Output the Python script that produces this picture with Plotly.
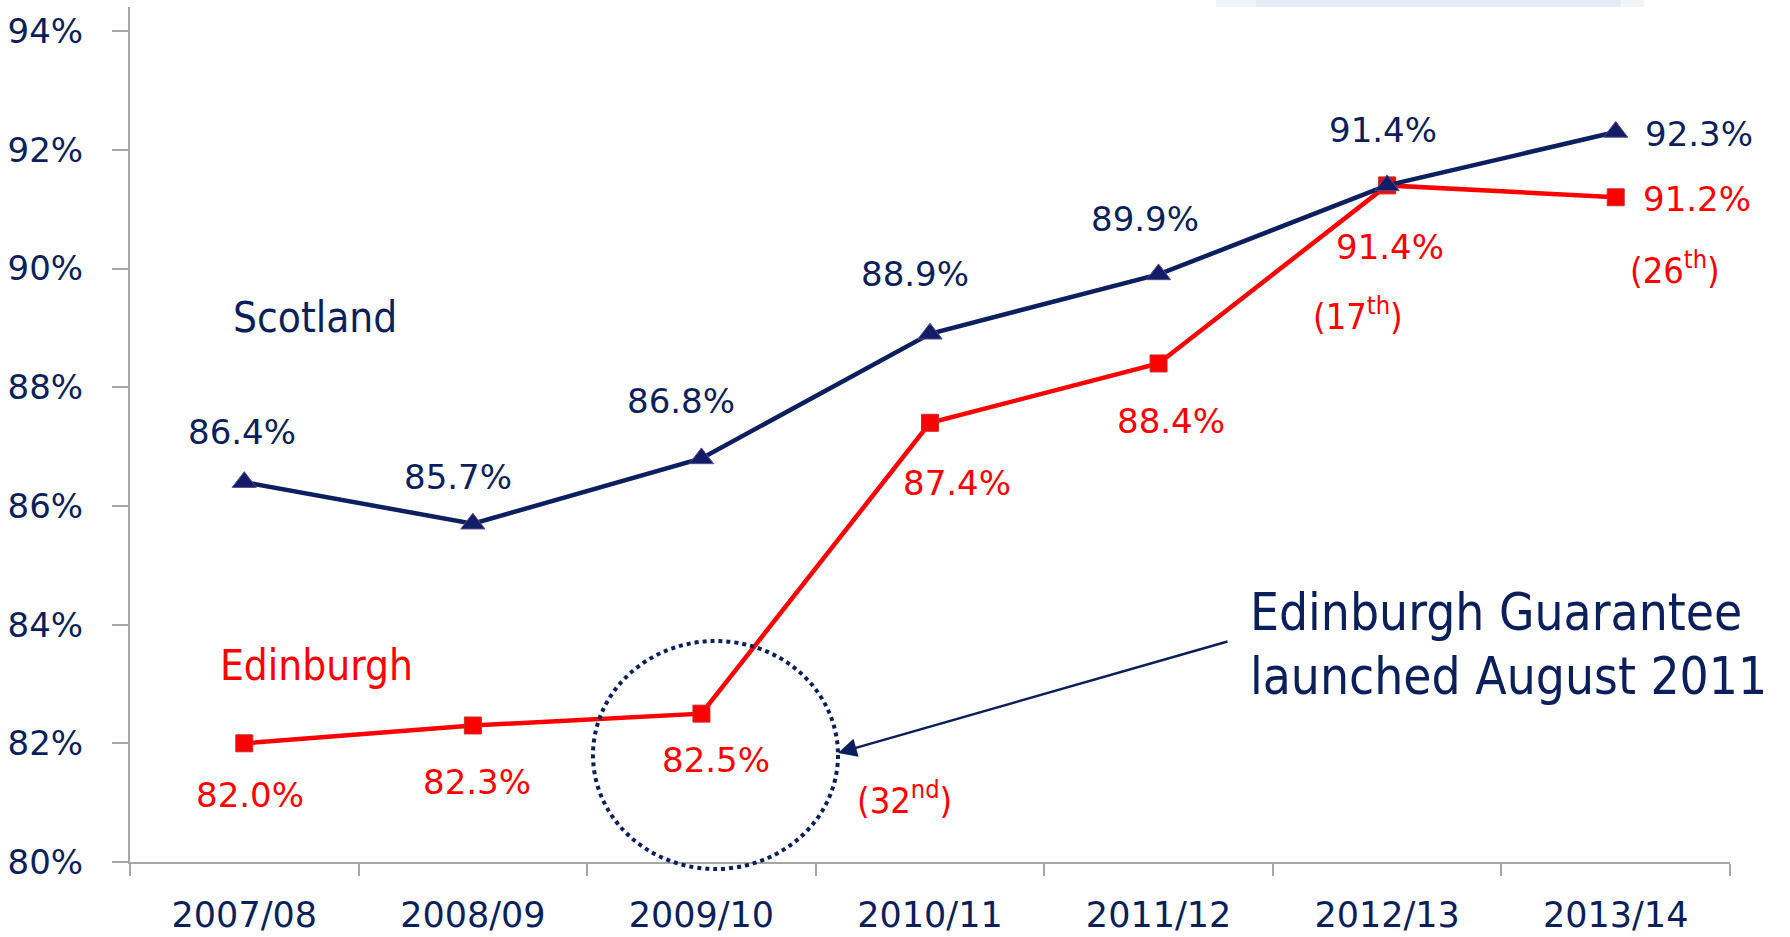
import plotly.graph_objects as go

# ---- data ----
years = ["2007/08", "2008/09", "2009/10", "2010/11", "2011/12", "2012/13", "2013/14"]
scotland = [86.4, 85.7, 86.8, 88.9, 89.9, 91.4, 92.3]
edinburgh = [82.0, 82.3, 82.5, 87.4, 88.4, 91.4, 91.2]
ytick_vals = [80, 82, 84, 86, 88, 90, 92, 94]
ytick_text = ["80%", "82%", "84%", "86%", "88%", "90%", "92%", "94%"]
rank_idx = [2, 5, 6]
rank_text = ["(32<sup>nd</sup>)", "(17<sup>th</sup>)", "(26<sup>th</sup>)"]

# ---- styling / positioning (pixel offsets of labels relative to points) ----
NAVY = "#0c1f5e"
NAVY_TXT = "#0b1f5c"
RED = "#ff0000"
VERD = "DejaVu Sans, Verdana, sans-serif"
TAH = "DejaVu Sans Condensed, Tahoma, Roboto, sans-serif"

sc_off = [(-2, -50), (-15, -47), (-20, -57), (-15, -60), (-14, -55), (-4, -55), (83, 2)]
ed_off = [(6, 52), (4, 57), (15, 46), (27, 60), (12, 58), (3, 62), (81, 2)]
rank_off = [(203, 84), (-29, 129), (59, 71)]

W, H = 1790, 937
L, R, T, B = 130, 60, 7, 75
PW = W - L - R
PH = H - T - B


def px(x):
    return (x - L) / PW


def py(y):
    return (H - B - y) / PH


fig = go.Figure()
fig.add_trace(go.Scatter(
    x=years, y=edinburgh, mode="lines+markers", name="Edinburgh",
    line=dict(color=RED, width=4.5),
    marker=dict(symbol="square", size=17, color=RED, line=dict(color="#c83030", width=1)),
))
fig.add_trace(go.Scatter(
    x=years, y=scotland, mode="lines+markers", name="Scotland",
    line=dict(color=NAVY, width=4.5),
    marker=dict(symbol="triangle-up", size=21, color="#131c66", line=dict(color="#5a4a90", width=1)),
))

ann = []
for i, (yr, v) in enumerate(zip(years, scotland)):
    dx, dy = sc_off[i]
    ann.append(dict(x=yr, y=v, xref="x", yref="y", text=f"{v:.1f}%", showarrow=False,
                    xshift=dx, yshift=-dy, xanchor="center", yanchor="middle",
                    font=dict(family=VERD, size=34, color=NAVY_TXT)))
for i, (yr, v) in enumerate(zip(years, edinburgh)):
    dx, dy = ed_off[i]
    ann.append(dict(x=yr, y=v, xref="x", yref="y", text=f"{v:.1f}%", showarrow=False,
                    xshift=dx, yshift=-dy, xanchor="center", yanchor="middle",
                    font=dict(family=VERD, size=34, color=RED)))
for k, idx in enumerate(rank_idx):
    dx, dy = rank_off[k]
    ann.append(dict(x=years[idx], y=edinburgh[idx], xref="x", yref="y", text=rank_text[k],
                    showarrow=False, xshift=dx, yshift=-dy, xanchor="center", yanchor="middle",
                    font=dict(family=TAH, size=36, color=RED)))

# series name labels
ann.append(dict(x=px(315), y=py(317), xref="paper", yref="paper", text="Scotland", showarrow=False,
                xanchor="center", yanchor="middle", font=dict(family=TAH, size=42, color=NAVY_TXT)))
ann.append(dict(x=px(316), y=py(665), xref="paper", yref="paper", text="Edinburgh", showarrow=False,
                xanchor="center", yanchor="middle", font=dict(family=TAH, size=42, color=RED)))
# callout text
ann.append(dict(x=px(1248), y=py(612), xref="paper", yref="paper", text="Edinburgh Guarantee",
                showarrow=False, xanchor="left", yanchor="middle",
                font=dict(family=TAH, size=51, color=NAVY_TXT)))
ann.append(dict(x=px(1248), y=py(676), xref="paper", yref="paper", text="launched August 2011",
                showarrow=False, xanchor="left", yanchor="middle",
                font=dict(family=TAH, size=51, color=NAVY_TXT)))
# arrow
ann.append(dict(x=px(838), y=py(753), xref="paper", yref="paper", text="", showarrow=True,
                ax=391, ay=-112, axref="pixel", ayref="pixel",
                arrowhead=2, arrowsize=1.5, arrowwidth=2.5, arrowcolor=NAVY_TXT, standoff=0))

shapes = [
    # dotted ellipse
    dict(type="circle", xref="paper", yref="paper", x0=px(593), x1=px(838), y0=py(869), y1=py(641),
         line=dict(color=NAVY_TXT, width=4, dash="dot")),
    # faint band at the top edge
    dict(type="rect", xref="paper", yref="paper", x0=px(1216), x1=px(1644), y0=py(7), y1=py(0),
         line=dict(width=0), fillcolor="#f1f4f9"),
    dict(type="rect", xref="paper", yref="paper", x0=px(1256), x1=px(1621), y0=py(7), y1=py(0),
         line=dict(width=0), fillcolor="#e5ebf4"),
]

fig.update_layout(
    width=W, height=H,
    margin=dict(l=L, r=R, t=T, b=B, pad=0, autoexpand=False),
    paper_bgcolor="white", plot_bgcolor="white",
    showlegend=False,
    annotations=ann, shapes=shapes,
    xaxis=dict(type="category", range=[-0.5, 6.5], showgrid=False, zeroline=False,
               automargin=False,
               showline=True, linecolor="#a6a6a6", linewidth=2,
               ticks="outside", tickson="boundaries", ticklen=12, tickwidth=2, tickcolor="#a6a6a6",
               tickfont=dict(family=VERD, size=35, color=NAVY_TXT), ticklabelstandoff=21),
    yaxis=dict(range=[80, 80 + (H - B - T) / (118.7 / 2)], showgrid=False, zeroline=False,
               automargin=False,
               tickvals=ytick_vals, ticktext=ytick_text,
               showline=True, linecolor="#a6a6a6", linewidth=2,
               ticks="outside", ticklen=16, tickwidth=2, tickcolor="#a6a6a6",
               tickfont=dict(family=VERD, size=34, color=NAVY_TXT), ticklabelstandoff=22),
)

fig.write_html("out.html")
